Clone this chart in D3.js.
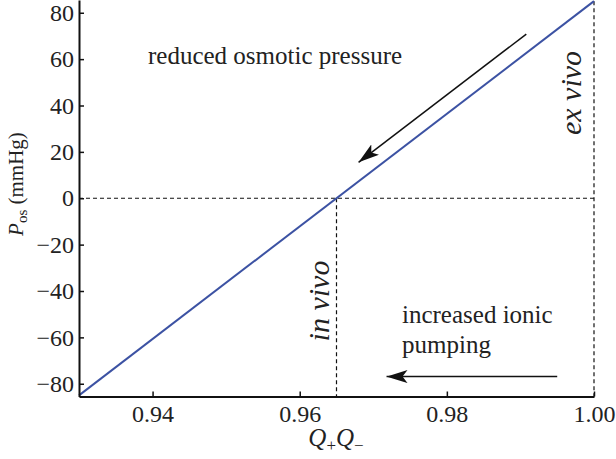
<!DOCTYPE html>
<html><head><meta charset="utf-8">
<script src="https://cdn.jsdelivr.net/npm/d3@7"></script>
<style>body{margin:0;background:#fff}svg{display:block}text{font-family:"Liberation Serif","Times New Roman",serif;fill:#222}</style>
</head><body>
<script>
const lineX = [0.93, 1.00];
const lineY = [-85, 85];
const xTicks = [0.94, 0.96, 0.98, 1.00];
const yTicks = [-80, -60, -40, -20, 0, 20, 40, 60, 80];
const inVivoX = 0.965;
const exVivoX = 1.00;
const arrowTop = [[0.9908, 70.8], [0.9680, 15.5]];
const arrowBottom = [[0.9950, -76.9], [0.9718, -76.9]];

const W = 616, H = 459;
const svg = d3.select("body").append("svg").attr("width", W).attr("height", H);
const x = d3.scaleLinear().domain([0.93, 1.00]).range([79, 594]);
const y = d3.scaleLinear().domain([-85.5, 85.5]).range([396.5, 0]);

const defs = svg.append("defs");
defs.append("marker").attr("id","ah").attr("viewBox","0 0 21 13").attr("refX",21).attr("refY",6.5)
  .attr("markerWidth",21).attr("markerHeight",13).attr("markerUnits","userSpaceOnUse").attr("orient","auto")
  .append("path").attr("d","M0,0 L21,6.5 L0,13 L5,6.5 Z").attr("fill","#111");

// dashed guides
const dash = "4,3";
svg.append("line").attr("x1", x(0.93)).attr("x2", x(exVivoX)).attr("y1", y(0)).attr("y2", y(0))
  .attr("stroke","#111").attr("stroke-width",1.2).attr("stroke-dasharray",dash);
svg.append("line").attr("x1", x(inVivoX)).attr("x2", x(inVivoX)).attr("y1", y(0)).attr("y2", y(-85.5))
  .attr("stroke","#111").attr("stroke-width",1.2).attr("stroke-dasharray",dash);
svg.append("line").attr("x1", x(exVivoX)).attr("x2", x(exVivoX)).attr("y1", y(85)).attr("y2", y(-85.5))
  .attr("stroke","#111").attr("stroke-width",1.2).attr("stroke-dasharray",dash);

// main line
svg.append("path").datum(lineX.map((v,i)=>[v,lineY[i]]))
  .attr("d", d3.line().x(d=>x(d[0])).y(d=>y(d[1])))
  .attr("fill","none").attr("stroke","#3c52a3").attr("stroke-width",2);

// axes
const xAxis = svg.append("g").attr("transform",`translate(0,${y(-85.5)})`)
  .call(d3.axisBottom(x).tickValues(xTicks).tickFormat(d3.format(".2f")).tickSizeInner(-5).tickSizeOuter(0).tickPadding(8));
const yAxis = svg.append("g").attr("transform",`translate(${x(0.93)},0)`)
  .call(d3.axisLeft(y).tickValues(yTicks).tickFormat(d=>d<0?"\u2212"+Math.abs(d):d).tickSizeInner(-5).tickSizeOuter(0).tickPadding(5));
[xAxis,yAxis].forEach(g=>{
  g.select(".domain").attr("stroke","#111").attr("stroke-width",2);
  g.selectAll(".tick line").attr("stroke","#111").attr("stroke-width",1.5);
  g.selectAll(".tick text").attr("font-size",24).attr("fill","#222");
});

// arrows
[arrowTop, arrowBottom].forEach(a=>{
  svg.append("line").attr("x1",x(a[0][0])).attr("y1",y(a[0][1])).attr("x2",x(a[1][0])).attr("y2",y(a[1][1]))
    .attr("stroke","#111").attr("stroke-width",1.5).attr("marker-end","url(#ah)");
});

// annotations
svg.append("text").attr("x",148).attr("y",64).attr("font-size",25).text("reduced osmotic pressure");
svg.append("text").attr("x",402).attr("y",323).attr("font-size",25).text("increased ionic");
svg.append("text").attr("x",402).attr("y",353).attr("font-size",25).text("pumping");
svg.append("text").attr("transform",`translate(${x(inVivoX)-8},${301}) rotate(-90)`).attr("text-anchor","middle")
  .attr("font-size",30).attr("font-style","italic").text("in vivo");
svg.append("text").attr("transform",`translate(${x(exVivoX)-13},${93}) rotate(-90)`).attr("text-anchor","middle")
  .attr("font-size",30).attr("font-style","italic").text("ex vivo");

// axis titles
const yl = svg.append("text").attr("transform",`translate(23,${184}) rotate(-90)`).attr("text-anchor","middle").attr("font-size",21);
yl.append("tspan").attr("font-style","italic").text("P");
yl.append("tspan").attr("font-size",15).attr("dy",4).text("os");
yl.append("tspan").attr("dy",-4).text(" (mmHg)");

const xl = svg.append("text").attr("x",336).attr("y",446).attr("text-anchor","middle").attr("font-size",25);
xl.append("tspan").attr("font-style","italic").text("Q");
xl.append("tspan").attr("font-size",17).attr("dy",5).text("+");
xl.append("tspan").attr("font-style","italic").attr("dy",-5).text("Q");
xl.append("tspan").attr("font-size",17).attr("dy",5).text("\u2212");
</script>
</body></html>
